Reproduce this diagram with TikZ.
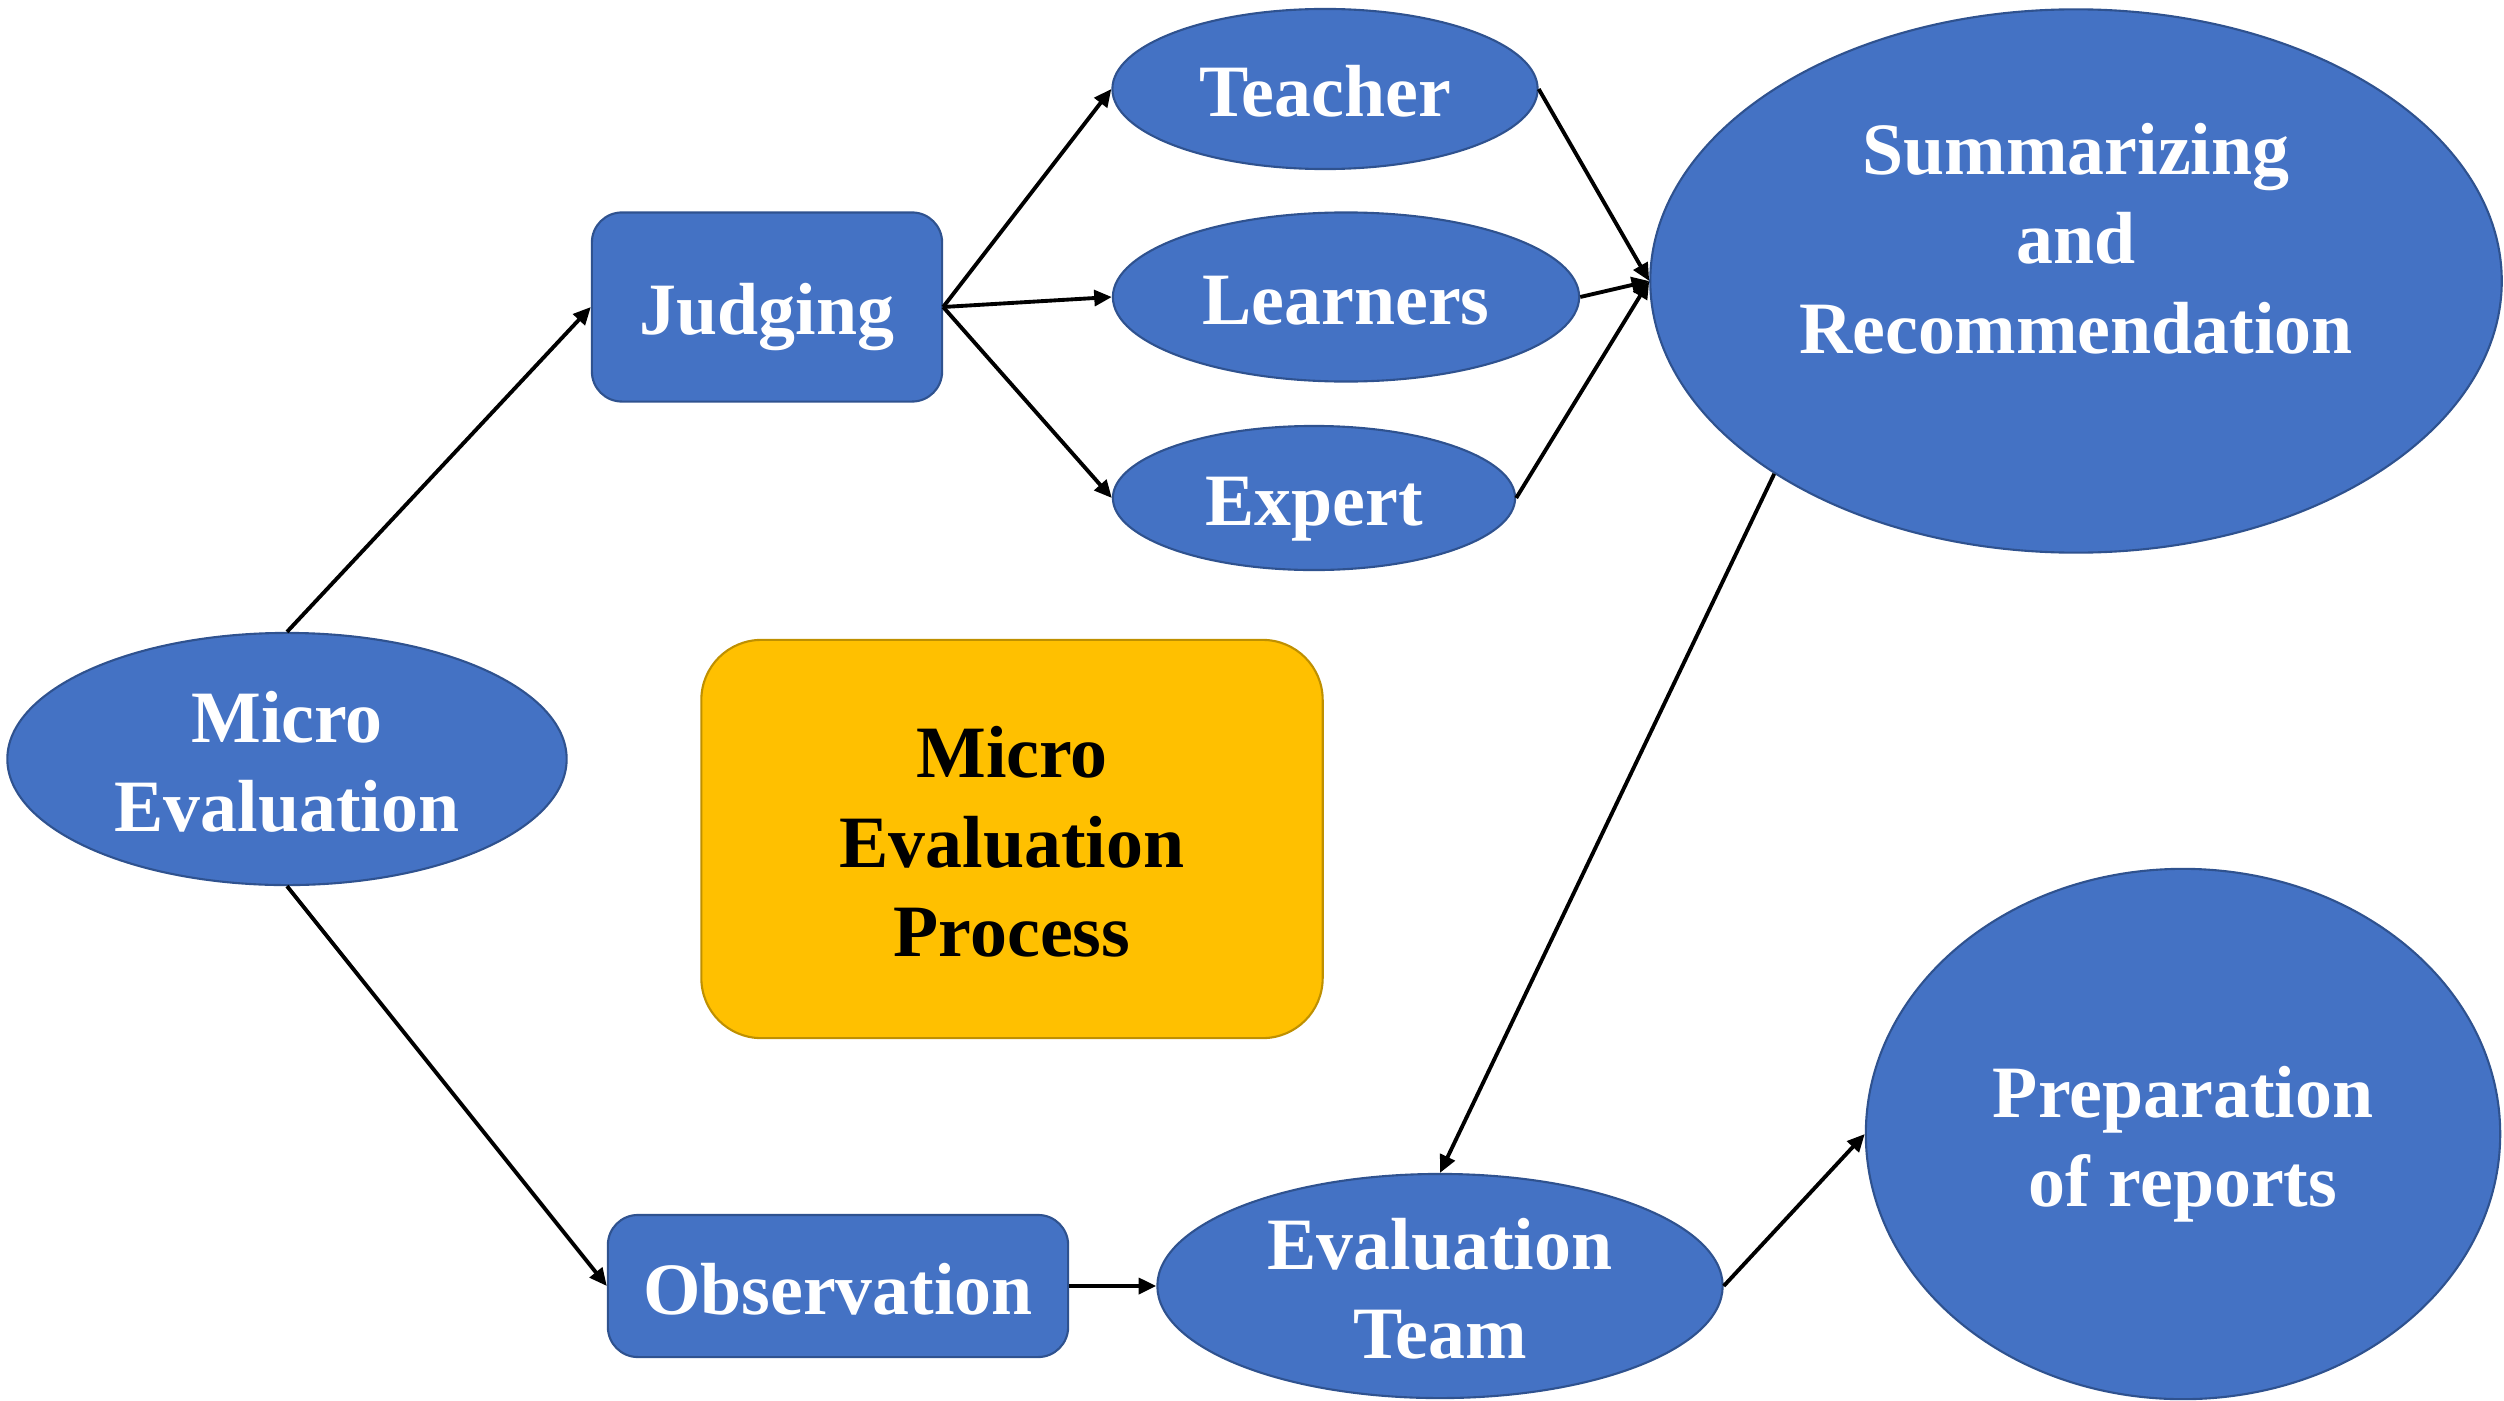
\documentclass[tikz,border=0pt]{standalone}
\usepackage{fontspec}
\setmainfont{Liberation Serif}
\usetikzlibrary{shapes.geometric,arrows.meta}
\definecolor{nodeblue}{HTML}{4472C4}
\definecolor{nodeedge}{HTML}{2F528F}
\definecolor{procyel}{HTML}{FFC000}
\definecolor{procedge}{HTML}{BF9000}
\newcommand\lnstrut{\rule[-0.216em]{0pt}{1.19em}}
\begin{document}
\begin{tikzpicture}[x=0.01cm,y=-0.01cm,
  txt/.style={font=\fontsize{21}{25.5}\selectfont\bfseries, align=center},
  oval/.style={ellipse, draw=nodeedge, fill=nodeblue, line width=0.6pt, text=white, inner sep=0pt, txt},
  rbox/.style={rectangle, rounded corners=0.3cm, draw=nodeedge, fill=nodeblue, line width=0.6pt, text=white, inner sep=0pt, txt},
  conn/.style={line width=1.1pt, -{Triangle[length=5pt,width=4.5pt]}}
]
\useasboundingbox (0,0) rectangle (2504,1400);
\node[oval, minimum width=5.59cm, minimum height=2.52cm] (me) at (287,759) {};
\node[txt, text=white] (metxt) at (287,759) {Micro\lnstrut\\Evaluation\lnstrut};
\node[rbox, minimum width=3.50cm, minimum height=1.89cm] (jud) at (767,307) {Judging\lnstrut};
\node[oval, minimum width=4.25cm, minimum height=1.60cm] (tea) at (1325,89) {Teacher\lnstrut};
\node[oval, minimum width=4.66cm, minimum height=1.69cm] (lea) at (1346,297) {Learners\lnstrut};
\node[oval, minimum width=4.02cm, minimum height=1.44cm] (exp) at (1314,498) {Expert\lnstrut};
\node[oval, minimum width=8.51cm, minimum height=5.43cm] (sum) at (2076,281) {};
\node[txt, text=white] (sumtxt) at (2076,236) {Summarizing\lnstrut\\and\lnstrut\\Recommendation\lnstrut};
\node[rectangle, rounded corners=0.6cm, draw=procedge, fill=procyel, line width=0.6pt, txt, text=black, minimum width=6.21cm, minimum height=3.98cm, inner sep=0pt] (mep) at (1012,839) {Micro\lnstrut\\Evaluation\lnstrut\\Process\lnstrut};
\node[rbox, minimum width=4.60cm, minimum height=1.42cm] (obs) at (838,1286) {Observation\lnstrut};
\node[oval, minimum width=5.65cm, minimum height=2.24cm] (evt) at (1440,1286) {};
\node[txt, text=white] (evttxt) at (1440,1286) {Evaluation\lnstrut\\Team\lnstrut};
\node[oval, minimum width=6.34cm, minimum height=5.30cm] (prep) at (2183,1134) {Preparation\lnstrut\\of reports\lnstrut};

\draw[conn] (me.north) -- (jud.west);
\draw[conn] (me.south) -- (obs.west);
\draw[conn] (jud.east) -- (tea.west);
\draw[conn] (jud.east) -- (lea.west);
\draw[conn] (jud.east) -- (exp.west);
\draw[conn] (tea.east) -- (sum.west);
\draw[conn] (lea.east) -- (sum.west);
\draw[conn] (exp.east) -- (sum.west);
\draw[conn] (sum.south west) -- (evt.north);
\draw[conn] (obs.east) -- (evt.west);
\draw[conn] (evt.east) -- (prep.west);
\end{tikzpicture}
\end{document}
